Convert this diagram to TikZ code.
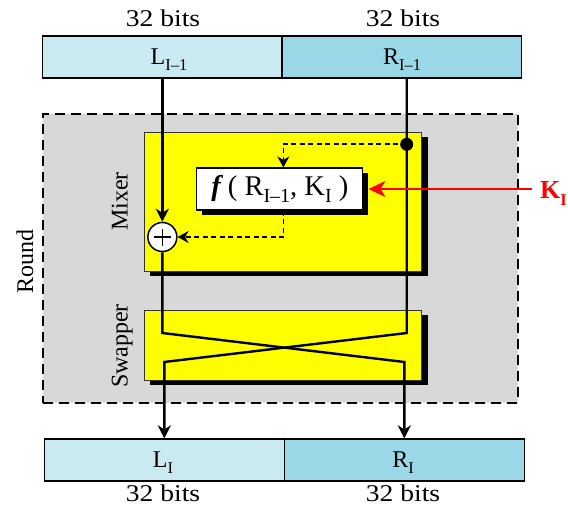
\documentclass[tikz,border=0pt]{standalone}
\usepackage{fontspec}
\setmainfont{Liberation Serif}
\usepackage{graphicx}
\usetikzlibrary{arrows.meta,shadows}
\definecolor{lblue}{HTML}{C9EAF1}
\definecolor{dblue}{HTML}{9AD7E7}
\definecolor{roundgrey}{HTML}{D8D8D8}
\definecolor{ylw}{HTML}{FFFF00}
\definecolor{kred}{HTML}{FF0000}
\newcommand\mysub[1]{\raisebox{-0.25em}{\fontsize{16.5}{16.5}\selectfont #1}}
\newcommand\mysubf[1]{\raisebox{-0.25em}{\fontsize{20}{20}\selectfont #1}}
\newcommand\bitslabel{\scalebox{1.15}[1]{32 bits}}
\begin{document}
\begin{tikzpicture}[x=1pt,y=-1pt,
  txt/.style={font=\fontsize{24}{26}\selectfont, inner sep=0pt},
  half/.style={draw, line width=1.2pt, minimum height=42pt, inner sep=0pt},
  ybox/.style={draw=black!80, line width=0.8pt, fill=ylw, minimum width=277.7pt,
    drop shadow={shadow xshift=6pt, shadow yshift=-5pt, opacity=1, fill=black}},
  fboxst/.style={draw, line width=1.2pt, fill=white, minimum width=166pt, minimum height=42pt,
    inner sep=0pt, drop shadow={shadow xshift=5pt, shadow yshift=-5pt, opacity=1, fill=black}},
  roundbox/.style={draw, dash pattern=on 10pt off 6pt, line width=2pt, fill=roundgrey,
    minimum width=474.7pt, minimum height=288.7pt},
  mainline/.style={line width=2.4pt},
  arr/.style={-{Stealth[length=13pt,width=13pt,inset=4pt]}},
  dline/.style={line width=1.6pt, dash pattern=on 5pt off 3.5pt},
  darr/.style={-{Stealth[length=11pt,width=12pt,inset=3.5pt]}},
  redarrow/.style={draw=kred, line width=2.4pt, -{Stealth[length=17pt,width=16pt,inset=5pt]}},
  rot/.style={txt, rotate=90, anchor=base}
]
\useasboundingbox (0,0) rectangle (568,508);

% top halves
\node[half, fill=lblue, minimum width=239.3pt] (topL) at (162.35,57) {};
\node[half, fill=dblue, minimum width=239.7pt] (topR) at (401.85,57) {};
\node[txt, anchor=base] (bitsTL) at (163,26.7) {\bitslabel};
\node[txt, anchor=base] (bitsTR) at (403,26.7) {\bitslabel};
\node[txt, anchor=base] (lblTL) at (169,64.5) {L\mysub{I–1}};
\node[txt, anchor=base] (lblTR) at (402,64.5) {R\mysub{I–1}};

% round
\node[roundbox] (round) at (280.35,258.35) {};
\node[rot] (roundlbl) at (33,261.5) {Round};

% mixer and swapper
\node[ybox, minimum height=139pt] (mixer) at (282.85,201.5) {};
\node[ybox, minimum height=70pt] (swapper) at (282.85,345) {};
\node[rot] (mixerlbl) at (127.7,201.5) {Mixer};
\node[rot] (swapperlbl) at (127.7,346) {Swapper};

% function box
\node[fboxst, font=\fontsize{28.5}{30}\selectfont] (fbox) at (279.85,189)
  {\textbf{\textit{f}}\,( R\mysubf{I–1}, K\mysubf{I} )};

% xor and dot
\node[circle, draw, fill=white, line width=1.5pt, minimum size=29pt, inner sep=0pt] (xor) at (162.35,237) {};
\draw[line width=1.4pt] ([xshift=-8.5pt]xor.center) -- ([xshift=8.5pt]xor.center)
  ([yshift=-8.5pt]xor.center) -- ([yshift=8.5pt]xor.center);
\node[circle, fill=black, minimum size=13pt, inner sep=0pt] (dot) at (406.7,144.3) {};

% bottom halves
\node[half, fill=lblue, minimum width=240pt] (botL) at (164.3,460) {};
\node[half, fill=dblue, minimum width=240pt] (botR) at (404.3,460) {};
\node[txt, anchor=base] (lblBL) at (163,467.5) {L\mysub{I}};
\node[txt, anchor=base] (lblBR) at (403,467.5) {R\mysub{I}};
\node[txt, anchor=base] (bitsBL) at (163,501.7) {\bitslabel};
\node[txt, anchor=base] (bitsBR) at (403,501.7) {\bitslabel};

% bends
\coordinate (bendA) at (162.35,333);
\coordinate (bendB) at (404.3,362);
\coordinate (bendC) at (406.7,333);
\coordinate (bendD) at (164.3,362);

% main lines
\draw[mainline, arr] (topL.south) -- (xor.north);
\draw[mainline, arr] (xor.south) -- (bendA) -- (bendB) -- (botR.north);
\draw[mainline, arr] (dot |- topR.south) -- (bendC) -- (bendD) -- (botL.north);

% dashed lines
\draw[dline, darr] (dot.center) -| ([xshift=3.5pt]fbox.north);
\draw[dline, darr] ([xshift=3.5pt]fbox.south) |- (xor.east);

% key
\node[font=\fontsize{26}{28}\selectfont\bfseries, text=kred, inner sep=0pt, anchor=base west] (K) at (540,198.5) {K\mysub{I}};
\coordinate (kstart) at ([xshift=-8pt]K.west);
\draw[redarrow] (kstart |- fbox.east) -- ([xshift=5pt]fbox.east);
\end{tikzpicture}
\end{document}
